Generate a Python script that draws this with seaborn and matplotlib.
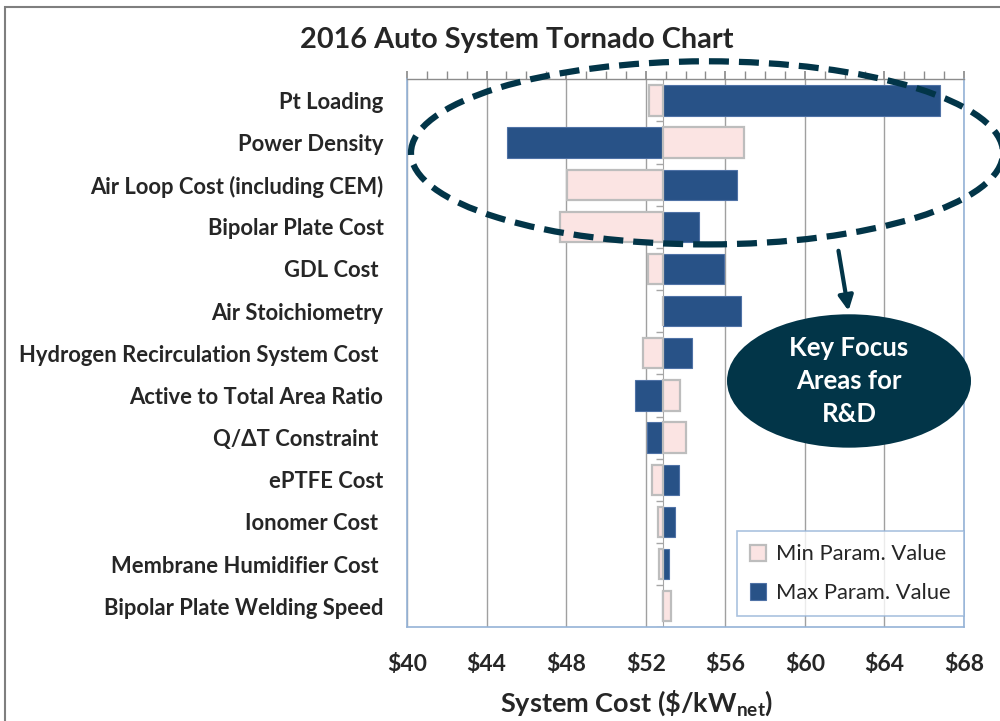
import matplotlib
matplotlib.use("Agg")
import matplotlib.pyplot as plt
import numpy as np
import seaborn as sns
from matplotlib.patches import Ellipse, Rectangle
from matplotlib.ticker import FuncFormatter, MultipleLocator


# Tornado chart data ($/kW_net).
labels = [
    "Pt Loading",
    "Power Density",
    "Air Loop Cost (including CEM)",
    "Bipolar Plate Cost",
    "GDL Cost ",
    "Air Stoichiometry",
    "Hydrogen Recirculation System Cost ",
    "Active to Total Area Ratio",
    "Q/\u0394T Constraint ",
    "ePTFE Cost",
    "Ionomer Cost ",
    "Membrane Humidifier Cost ",
    "Bipolar Plate Welding Speed",
]
min_vals = [52.15, 56.93, 48.06, 47.68, 52.13, 52.87, 51.85, 53.71, 54.05, 52.30, 52.61, 52.69, 53.27]
max_vals = [66.79, 45.02, 56.61, 54.66, 55.94, 56.80, 54.33, 51.48, 52.07, 53.67, 53.45, 53.15, 52.80]
base_cost = 52.87
x_ticks = [40, 44, 48, 52, 56, 60, 64, 68]

pink = "#FBE4E3"
blue = "#285287"
dark = "#023548"

sns.set_theme(style="white")
plt.rcParams["font.family"] = ["Lato", "DejaVu Sans"]
plt.rcParams["mathtext.fontset"] = "custom"
plt.rcParams["mathtext.rm"] = "Lato:bold"

fig = plt.figure(figsize=(10, 7.21), dpi=100)
ax = fig.add_axes([0.407, 0.130, 0.557, 0.760])

y = np.arange(len(labels))
min_d = np.array(min_vals) - base_cost
max_d = np.array(max_vals) - base_cost

ax.barh(y, max_d, left=base_cost, height=0.72, color=blue, edgecolor="#4F72A6",
        linewidth=0.8, label="Max Param. Value", zorder=3)
ax.barh(y, min_d, left=base_cost, height=0.72, color=pink, edgecolor="#BDBDBD",
        linewidth=1.6, label="Min Param. Value", zorder=3)

# little axis ticks at the baseline between categories
ax.vlines(base_cost, -0.5, len(labels) - 0.5, color="#A6A6A6", lw=0.8, zorder=2)
ax.hlines(np.arange(-0.5, len(labels)), base_cost - 0.35, base_cost, color="#A6A6A6", lw=1, zorder=2)

ax.set_xlim(40, 68)
ax.set_ylim(len(labels) - 0.5, -0.5)
ax.set_xticks(x_ticks)
ax.xaxis.set_major_formatter(FuncFormatter(lambda v, p: f"${v:.0f}"))
ax.xaxis.set_minor_locator(MultipleLocator(1))
ax.grid(axis="x", color="#A0A0A0", lw=1)
ax.set_axisbelow(True)
ax.set_yticks(y)
ax.set_yticklabels(labels, fontsize=15.8, fontweight="bold")
ax.tick_params(axis="y", length=0, pad=17)
ax.tick_params(axis="x", which="both", bottom=False, top=True, labelbottom=True,
               labeltop=False, direction="out", length=6, color="#8C8C8C",
               labelsize=16.5, pad=13)
for t in ax.get_xticklabels():
    t.set_fontweight("bold")
for side in ["left", "right", "bottom"]:
    ax.spines[side].set_color("#95B3D7")
    ax.spines[side].set_linewidth(1.2)
ax.spines["top"].set_color("#8C8C8C")
ax.spines["top"].set_linewidth(1.0)

handles, hl = ax.get_legend_handles_labels()
leg = ax.legend(handles[::-1], hl[::-1], loc="lower right", bbox_to_anchor=(1.0, 0.02),
                fontsize=15.8, frameon=True, fancybox=False, borderaxespad=0,
                handlelength=0.75, handleheight=0.75, labelspacing=0.85,
                borderpad=0.6, handletextpad=0.45)
leg.get_frame().set_edgecolor("#95B3D7")
leg.get_frame().set_linewidth(1.2)
leg.set_zorder(5)

fig.text(0.517, 0.944, "2016 Auto System Tornado Chart", ha="center", va="center",
         fontsize=20.8, fontweight="bold")
fig.text(0.637, 0.025, r"System Cost (\$/kW$_{\mathregular{net}}$)", ha="center",
         va="center", fontsize=19.5, fontweight="bold")

# focus ellipse, arrow and call-out
fig.add_artist(Ellipse((0.707, 0.788), 0.592, 0.254, transform=fig.transFigure,
                       fill=False, edgecolor=dark, lw=4.5, linestyle=(0, (3.2, 1.6)),
                       zorder=6, clip_on=False))
fig.add_artist(Ellipse((0.849, 0.4716), 0.244, 0.185, transform=fig.transFigure,
                       facecolor=dark, edgecolor="none", zorder=6))
fig.text(0.849, 0.4716, "Key Focus\nAreas for\nR&D", ha="center", va="center",
         color="white", fontsize=18.5, fontweight="bold", linespacing=1.45, zorder=7)
ax.annotate("", xy=(0.849, 0.565), xytext=(0.838, 0.656), xycoords="figure fraction",
            arrowprops=dict(arrowstyle="-|>", color=dark, lw=3, mutation_scale=22),
            annotation_clip=False)

fig.add_artist(Rectangle((0.005, -0.05), 1.2, 1.04, transform=fig.transFigure,
                         fill=False, edgecolor="#7F7F7F", lw=1.5))

fig.savefig("out.png", dpi=100)
